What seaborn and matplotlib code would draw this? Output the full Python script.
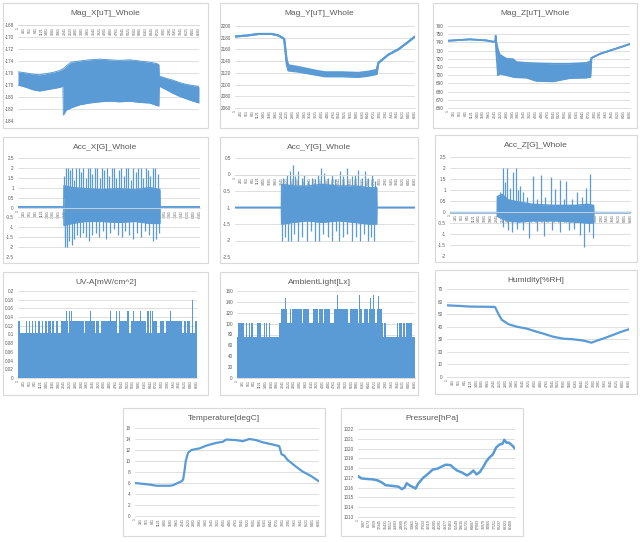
import numpy as np
import matplotlib
matplotlib.use('Agg')
import matplotlib.pyplot as plt
import seaborn as sns
from matplotlib.patches import Rectangle
from matplotlib.ticker import FuncFormatter

# ---- values, x = sample index ----
N_MAIN = 8700
N_PRES = 88600

# Mag_X noisy band
magx_idx = [0, 400, 720, 1040, 1360, 1680, 2000, 2160, 2180, 2320, 2560, 2960, 3440, 3920,
            4400, 4890, 5370, 5850, 6330, 6650, 6770, 6790, 7130, 7450, 7770, 8090, 8410, 8700]
magx_hi = [-175.8, -176.0, -176.2, -176.3, -176.1, -175.9, -175.6, -175.3, -175.3, -174.8, -174.2,
           -174.0, -173.8, -173.7, -173.8, -173.9, -173.8, -174.0, -174.2, -174.4, -174.6, -176.5,
           -176.9, -177.2, -177.6, -177.9, -178.1, -178.3]
magx_lo = [-178.0, -178.4, -178.8, -179.0, -178.8, -178.6, -178.4, -178.2, -183.0, -182.2, -181.8,
           -181.3, -181.0, -180.8, -180.7, -180.8, -180.7, -180.9, -181.0, -181.4, -181.5, -178.2,
           -178.8, -179.4, -179.9, -180.3, -180.7, -181.0]

# Mag_Y
magy_idx = [0, 640, 1130, 1770, 2090, 2340, 2380, 2500, 2580, 3060, 3870, 4350, 5160, 5960,
            6440, 6850, 6930, 7410, 7890, 8380, 8700]
magy_hi = [2182, 2184, 2186.4, 2186.4, 2184, 2179, 2177, 2142, 2133, 2130, 2124, 2121, 2121, 2120,
           2122, 2125, 2137, 2151, 2160, 2173, 2182]
magy_lo = [2182, 2184, 2186.4, 2186.4, 2184, 2179, 2177, 2135, 2124, 2122, 2117, 2114, 2114, 2113,
           2115, 2118, 2137, 2151, 2160, 2173, 2182]

# Mag_Z
magz_idx = [0, 1040, 1840, 2150, 2250, 2280, 2310, 2390, 2470, 2790, 3110, 3270, 3750, 4230,
            5030, 5830, 6620, 6810, 6860, 7260, 7740, 8220, 8700]
magz_hi = [742, 743.7, 742.4, 740.8, 741.2, 748.2, 740, 731, 725, 720, 719.5, 716, 715, 714.5,
           714, 714, 715, 717, 721, 726, 730, 734, 738]
magz_lo = [742, 743.7, 742.4, 740.8, 741.2, 741, 728, 700, 702, 700, 698, 697.5, 697, 693,
           692.5, 696.5, 697, 698, 721, 726, 730, 734, 738]

# Acc_X core band + spikes
accx_idx = [0, 2190, 2200, 2600, 3200, 4000, 4800, 5600, 6300, 6780, 6790, 8700]
accx_hi = [0.03, 0.03, 1.1, 1.0, 0.95, 0.9, 0.95, 0.9, 1.0, 0.9, 0.03, 0.03]
accx_lo = [0.03, 0.03, -0.9, -0.8, -0.7, -0.7, -0.75, -0.7, -0.8, -0.8, 0.03, 0.03]
accx_up_idx = [2220, 2300, 2390, 2480, 2570, 2680, 2790, 2900, 3010, 3120, 3230, 3340, 3450, 3560,
               3670, 3790, 3900, 4010, 4120, 4240, 4360, 4470, 4580, 4700, 4820, 4930, 5050, 5160,
               5280, 5400, 5510, 5630, 5750, 5860, 5980, 6100, 6210, 6330, 6450, 6560, 6680]
accx_up_val = [1.6, 2.0, 2.0, 1.9, 2.0, 1.4, 2.0, 2.0, 1.8, 2.0, 1.5, 2.0, 2.0, 1.7, 2.0, 2.0,
               1.5, 2.0, 1.9, 2.0, 1.6, 2.0, 2.0, 1.5, 1.9, 2.0, 1.6, 2.0, 2.0, 1.4, 2.0, 1.8,
               2.0, 2.0, 1.5, 2.0, 1.9, 1.6, 2.0, 2.0, 1.7]
accx_dn_idx = [2230, 2260, 2350, 2440, 2560, 2690, 2820, 2960, 3100, 3250, 3400, 3560, 3720, 3880,
               4050, 4220, 4400, 4580, 4760, 4950, 5130, 5320, 5500, 5700, 5890, 6080, 6260, 6430,
               6600, 6740]
accx_dn_val = [-1.5, -2.0, -2.0, -1.7, -1.9, -1.6, -1.4, -1.5, -1.3, -1.5, -1.7, -1.4, -1.3, -1.5,
               -1.2, -1.6, -1.3, -1.1, -1.4, -1.5, -1.2, -1.4, -1.6, -1.3, -1.5, -1.2, -1.4, -1.7,
               -1.6, -1.3]

# Acc_Y
accy_idx = [0, 2245, 2255, 2800, 3500, 4200, 5000, 5800, 6500, 6847, 6857, 8700]
accy_hi = [-1, -1, -0.3, -0.35, -0.35, -0.3, -0.35, -0.35, -0.4, -0.4, -1, -1]
accy_lo = [-1, -1, -1.5, -1.45, -1.4, -1.45, -1.4, -1.45, -1.5, -1.5, -1, -1]
accy_up_idx = [2336, 2497, 2658, 2787, 2900, 3029, 3222, 3351, 3544, 3705, 3866, 4028, 4156, 4317,
               4511, 4672, 4833, 5075, 5236, 5397, 5639, 5800, 5961, 6122, 6283, 6444, 6605, 6766]
accy_up_val = [-0.1, 0.0, 0.1, 0.3, -0.05, 0.1, -0.1, 0.0, -0.2, -0.1, -0.15, 0.0, 0.2, 0.05,
               -0.1, 0.0, -0.15, 0.1, -0.05, 0.2, -0.05, 0.0, 0.15, -0.1, 0.1, -0.1, 0.0, -0.2]
accy_dn_idx = [2288, 2417, 2545, 2706, 2868, 3061, 3254, 3464, 3673, 3866, 4060, 4269, 4479, 4672,
               4865, 5026, 5236, 5429, 5639, 5832, 6041, 6235, 6412, 6573, 6734]
accy_dn_val = [-2, -1.9, -2, -2, -1.8, -2, -1.9, -2, -1.7, -2, -2, -1.8, -1.9, -2, -1.7, -2,
               -1.9, -1.8, -2, -1.9, -2, -1.8, -2, -1.9, -2]

# Acc_Z
accz_idx = [0, 2270, 2280, 2500, 2800, 3300, 4000, 5000, 6000, 6600, 6900, 6910, 8700]
accz_hi = [-0.03, -0.03, 0.7, 0.8, 0.55, 0.45, 0.35, 0.3, 0.3, 0.35, 0.3, -0.03, -0.03]
accz_lo = [-0.03, -0.03, -0.2, -0.3, -0.4, -0.45, -0.4, -0.4, -0.45, -0.5, -0.5, -0.03, -0.03]
accz_up_idx = [2408, 2536, 2648, 2761, 2889, 3017, 3194, 3290, 3371, 3531, 3692, 4013, 4205, 4366,
               4574, 4847, 5056, 5297, 5457, 5585, 5858, 6099, 6340, 6532, 6741]
accz_up_val = [0.9, 2.0, 1.35, 2.0, 1.1, 1.8, 2.0, 1.0, 1.2, 0.9, 0.7, 1.65, 0.6, 1.7, 0.7, 1.6,
               1.05, 1.45, 0.6, 1.4, 0.6, 0.9, 0.7, 1.1, 1.75]
accz_dn_idx = [2568, 2809, 2969, 3210, 3531, 3820, 4173, 4526, 4895, 5297, 5698, 5939, 6260, 6452,
               6661, 6869]
accz_dn_val = [-0.7, -0.8, -0.9, -0.75, -0.8, -1.2, -0.85, -1.1, -0.8, -0.9, -0.8, -0.75, -1.05,
               -1.6, -0.9, -1.2]

# UV-A columns (level holds from each start index)
uv_idx = [0, 81, 374, 439, 520, 585, 667, 732, 829, 894, 976, 1073, 1171, 1236, 1333, 1398, 1463,
          1593, 1659, 1740, 1870, 1935, 2114, 2309, 2374, 2406, 2472, 2520, 2585, 2634, 3203, 3268,
          3512, 3561, 3740, 3805, 3951, 4016, 4455, 4504, 4780, 4829, 4894, 4943, 5301, 5382, 5414,
          5480, 5577, 5626, 5935, 5984, 6228, 6293, 6358, 6423, 6471, 6520, 6569, 6748, 6878, 7106,
          7171, 7398, 7447, 7967, 8065, 8163, 8228, 8342, 8472, 8520, 8602, 8700]
uv_val = [0.13, 0.103, 0.13, 0.103, 0.13, 0.103, 0.13, 0.103, 0.13, 0.103, 0.13, 0.103, 0.13,
          0.103, 0.13, 0.103, 0.13, 0.103, 0.13, 0.103, 0.13, 0.103, 0.13, 0.155, 0.13, 0.103,
          0.155, 0.13, 0.155, 0.13, 0.103, 0.13, 0.155, 0.13, 0.103, 0.13, 0.103, 0.13, 0.155,
          0.13, 0.155, 0.103, 0.155, 0.13, 0.155, 0.13, 0.103, 0.13, 0.155, 0.13, 0.155, 0.13,
          0.103, 0.155, 0.103, 0.155, 0.103, 0.155, 0.13, 0.103, 0.13, 0.103, 0.13, 0.155, 0.13,
          0.103, 0.13, 0.103, 0.13, 0.103, 0.18, 0.103, 0.13, 0.13]

# AmbientLight columns
amb_idx = [0, 49, 358, 439, 504, 569, 634, 699, 764, 976, 1057, 1089, 1187, 1301, 1350, 1415, 1480,
           1545, 1626, 2033, 2130, 2341, 2374, 2455, 2602, 2650, 2683, 3171, 3219, 3496, 3691, 3951,
           4032, 4179, 4244, 4569, 4732, 4911, 4943, 5415, 5512, 5935, 5984, 6016, 6130, 6195, 6390,
           6455, 6520, 6553, 6650, 6683, 6764, 6829, 6911, 6943, 7073, 7154, 7171, 7268, 7805, 7854,
           7919, 8049, 8130, 8211, 8260, 8537, 8700]
amb_val = [76, 101, 76, 101, 76, 101, 76, 101, 76, 101, 76, 101, 76, 101, 76, 101, 76, 101, 76, 101,
           126, 148, 126, 101, 126, 101, 126, 101, 126, 101, 126, 101, 126, 101, 126, 101, 126, 152,
           126, 101, 126, 101, 152, 126, 101, 126, 101, 126, 147, 126, 152, 126, 101, 126, 150, 126,
           101, 76, 101, 76, 101, 76, 101, 76, 101, 76, 101, 76, 76]

# Humidity
hum_idx = [0, 635, 1112, 2223, 2303, 2461, 2620, 2938, 3335, 3811, 4288, 4605, 5082, 5558, 6034,
           6511, 6749, 6908, 7146, 7543, 8019, 8337, 8700]
hum_val = [57, 56.5, 56, 55.8, 55.5, 50, 45.5, 42, 40, 38.5, 36, 34.5, 32, 30.5, 30, 29, 28, 27.3,
           28.8, 31, 34, 36, 38]

# Temperature
temp_idx = [0, 706, 1019, 1646, 1803, 1960, 2195, 2274, 2352, 2399, 2509, 2666, 3058, 3371, 3842,
            4155, 4312, 4782, 5096, 5410, 5723, 6037, 6507, 6821, 6931, 7056, 7213, 7605, 7918,
            8310, 8700]
temp_val = [6.0, 5.7, 5.5, 5.5, 5.6, 5.9, 6.3, 6.6, 8.5, 10, 11.5, 12, 12.3, 12.8, 13.3, 13.5,
            13.9, 13.8, 13.6, 14, 13.8, 13.4, 13, 12.7, 11.2, 11, 10.2, 9, 8.1, 7.3, 6.3]

# Pressure
pres_idx = [0, 1834, 4585, 8253, 11004, 13755, 15589, 18340, 22925, 24759, 26226, 27510, 29344,
            31178, 32462, 33929, 36680, 39431, 42182, 44933, 47684, 49518, 52269, 54103, 55937,
            58688, 61439, 63273, 65107, 66941, 68775, 70609, 72443, 74277, 76111, 77945, 79779,
            81613, 82530, 83814, 85281, 87115, 88600]
pres_val = [1017.2, 1016.95, 1016.9, 1016.85, 1016.75, 1016.5, 1016.25, 1016.2, 1016.1, 1015.85,
            1016.0, 1016.45, 1016.2, 1016.05, 1015.9, 1016.4, 1017.0, 1017.4, 1017.85, 1017.95,
            1018.2, 1018.35, 1018.3, 1018.0, 1017.75, 1017.55, 1017.25, 1017.45, 1017.75, 1017.35,
            1017.6, 1018.1, 1018.7, 1019.1, 1019.4, 1020.1, 1020.4, 1020.5, 1020.9, 1020.6,
            1020.6, 1020.3, 1020.0]

BLUE = '#5B9BD5'
GRID = '#D9D9D9'
TXT = '#595959'
W, H = 640, 542

sns.set_style('white')
plt.rcParams['font.family'] = ['Liberation Sans', 'DejaVu Sans']

fig = plt.figure(figsize=(W / 100, H / 100), dpi=100)


def panel(box, area, title, ylim, ystep, n, step, cross=None):
    bx0, by0, bx1, by1 = box
    fig.add_artist(Rectangle((bx0 / W, 1 - by1 / H), (bx1 - bx0) / W, (by1 - by0) / H,
                             transform=fig.transFigure, fill=False, ec=GRID, lw=0.8))
    fig.text((bx0 + bx1) / 2 / W, 1 - (by0 + 10.5) / H, title, ha='center', va='center',
             fontsize=6, color=TXT)
    x0, y0, x1, y1 = area
    ax = fig.add_axes([x0 / W, 1 - y1 / H, (x1 - x0) / W, (y1 - y0) / H])
    ax.set_xlim(0, n)
    ax.set_ylim(*ylim)
    ax.set_yticks(np.arange(ylim[0], ylim[1] + ystep / 2, ystep))
    ax.yaxis.set_major_formatter(FuncFormatter(lambda v, p: f'{round(v, 6):g}'))
    ticks = np.arange(1, n, step)
    ax.set_xticks(ticks)
    ax.set_xticklabels([str(t) for t in ticks])
    ax.grid(axis='y', color=GRID, lw=0.6)
    ax.grid(axis='x', visible=False)
    ax.set_axisbelow(True)
    for s in ['left', 'right', 'top']:
        ax.spines[s].set_visible(False)
    ax.spines['bottom'].set_color(GRID)
    ax.spines['bottom'].set_linewidth(0.6)
    if cross is not None:
        ax.spines['bottom'].set_position(('data', cross))
    ax.tick_params(axis='x', length=0, labelsize=2.6, labelcolor=TXT, pad=1.5, labelrotation=90)
    ax.tick_params(axis='y', length=0, labelsize=3.3, labelcolor=TXT, pad=3)
    ax.set_xlabel('')
    ax.set_ylabel('')
    ax.patch.set_alpha(0)
    return ax


def band(ax, idx, lo, hi, lw=0.9):
    ax.fill_between(idx, lo, hi, color=BLUE, lw=0)
    sns.lineplot(x=idx, y=hi, ax=ax, color=BLUE, lw=lw, estimator=None)
    sns.lineplot(x=idx, y=lo, ax=ax, color=BLUE, lw=lw, estimator=None)


def spikes(ax, idx, vals, base, lw=0.9):
    ax.vlines(idx, base, vals, color=BLUE, lw=lw)


# row 1
ax = panel((3, 3, 208, 128), (18, 25, 199, 121), 'Mag_X[uT]_Whole', (-184, -168), 2, N_MAIN, 280, cross=-168)
band(ax, magx_idx, magx_lo, magx_hi, lw=0.7)

ax = panel((220, 3, 418, 128), (235, 26, 415, 108), 'Mag_Y[uT]_Whole', (2060, 2200), 20, N_MAIN, 280)
band(ax, magy_idx, magy_lo, magy_hi, lw=1.5)

ax = panel((433, 3, 637, 128), (448, 26, 630, 108), 'Mag_Z[uT]_Whole', (660, 760), 10, N_MAIN, 280)
band(ax, magz_idx, magz_lo, magz_hi, lw=1.3)

# row 2
ax = panel((3, 137, 208, 263), (18, 158, 200, 257), 'Acc_X[G]_Whole', (-2.5, 2.5), 0.5, N_MAIN, 280, cross=0)
band(ax, accx_idx, accx_lo, accx_hi, lw=1.1)
spikes(ax, accx_up_idx, accx_up_val, 0.5)
spikes(ax, accx_dn_idx, accx_dn_val, -0.5)

ax = panel((220, 137, 418, 263), (235, 158, 415, 257), 'Acc_Y[G]_Whole', (-2.5, 0.5), 0.5, N_MAIN, 280, cross=0)
band(ax, accy_idx, accy_lo, accy_hi, lw=1.1)
spikes(ax, accy_up_idx, accy_up_val, -0.5)
spikes(ax, accy_dn_idx, accy_dn_val, -1.3)

ax = panel((435, 135, 637, 262), (450, 157, 631, 256), 'Acc_Z[G]_Whole', (-2, 2.5), 0.5, N_MAIN, 280, cross=0)
band(ax, accz_idx, accz_lo, accz_hi, lw=1.1)
spikes(ax, accz_up_idx, accz_up_val, 0.2)
spikes(ax, accz_dn_idx, accz_dn_val, -0.2)

# row 3
ax = panel((3, 272, 208, 395), (18, 291, 197, 378), 'UV-A[mW/cm^2]', (0, 0.2), 0.02, N_MAIN, 280)
ax.fill_between(uv_idx, 0, uv_val, step='post', color=BLUE, lw=0)

ax = panel((220, 272, 418, 395), (237, 291, 415, 378), 'AmbientLight[Lx]', (0, 160), 20, N_MAIN, 280)
ax.fill_between(amb_idx, 0, amb_val, step='post', color=BLUE, lw=0)

ax = panel((435, 270, 637, 394), (447, 289, 629, 377), 'Humidity[%RH]', (0, 70), 10, N_MAIN, 280)
sns.lineplot(x=hum_idx, y=hum_val, ax=ax, color=BLUE, lw=1.6, estimator=None)

# row 4
ax = panel((123, 408, 325, 536), (135, 428, 319, 516), 'Temperature[degC]', (0, 16), 2, N_MAIN, 280)
sns.lineplot(x=temp_idx, y=temp_val, ax=ax, color=BLUE, lw=1.6, estimator=None)

ax = panel((341, 408, 523, 536), (358, 429, 515, 517), 'Pressure[hPa]', (1013, 1022), 1, N_PRES, 3086)
sns.lineplot(x=pres_idx, y=pres_val, ax=ax, color=BLUE, lw=1.8, estimator=None)

fig.savefig('out.png', dpi=100, facecolor='white')
